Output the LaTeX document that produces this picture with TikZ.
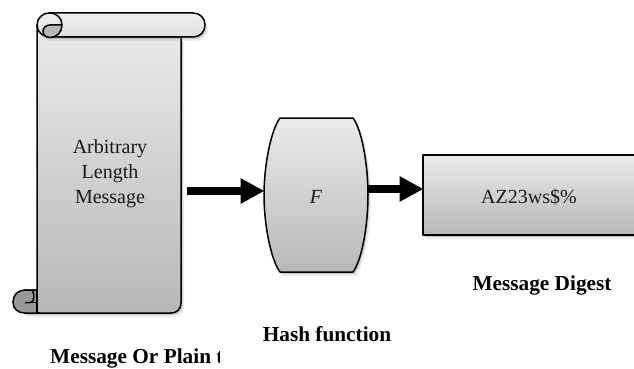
\documentclass[tikz,border=0pt]{standalone}
\usepackage{fontspec}
\setmainfont{Liberation Serif}
\usetikzlibrary{shadows,arrows.meta}
\tikzset{
  softshadow/.style={drop shadow={shadow xshift=1.5pt,shadow yshift=-2pt,opacity=.35},
    drop shadow={shadow xshift=3pt,shadow yshift=-4pt,opacity=.15}},
  sheet/.style={draw=black,line width=1.5pt,line join=round,top color=black!8,bottom color=black!28,softshadow},
  rollpart/.style={draw=black,line width=1.5pt,line join=round},
  caption/.style={font=\fontsize{21.3}{24}\selectfont\bfseries,inner sep=0pt},
  body/.style={font=\fontsize{20}{25}\selectfont,align=center,inner sep=0pt,text=black!90},
  flow/.style={line width=8pt,-{Triangle[length=24pt,width=24pt]},shorten >=-.5pt}
}
\begin{document}
\begin{tikzpicture}[x=1pt,y=-1pt]
  \clip (0,0) rectangle (634,369);
  % scroll
  \draw[sheet] (37,25) -- (37,290) -- (25,290) -- (13,302) -- (25,313) -- (171,313)
    .. controls (177,313) and (181,309) .. (181,303) -- (181,37) -- (62,37) -- cycle;
  \draw[rollpart,top color=black!6,bottom color=black!13,softshadow]
    (49,13) -- (193,13) .. controls (200,13) and (205,18) .. (205,25)
    .. controls (205,32) and (200,37) .. (193,37) -- (50,37)
    .. controls (43,37) and (37,32) .. (37,25) .. controls (37,18) and (43,13) .. (49,13) -- cycle;
  \draw[rollpart,fill=black!28] (50,25) .. controls (46,25) and (43,28) .. (43,31)
    .. controls (43,35) and (46,37.5) .. (50,37.5)
    .. controls (57,37.5) and (62,32) .. (62,25) -- cycle;
  \draw[rollpart] (49,13) .. controls (57,13) and (62,18) .. (62,25);
  % lower curl
  \fill[black!40] (37,290) -- (25,290) .. controls (18,290) and (13,295) .. (13,302)
    .. controls (13,309) and (18,313) .. (25,313) -- (37,313) -- cycle;
  \draw[rollpart] (37,290) -- (25,290) .. controls (18,290) and (13,295) .. (13,302)
    .. controls (13,309) and (18,313) .. (25,313) -- (40,313);
  \draw[rollpart] (37,290) -- (37,313);
  \draw[rollpart] (25,302.5) -- (30,302.5) .. controls (33,302.5) and (34,299) .. (34,296)
    .. controls (34,294) and (33,292) .. (32,290);
  \draw[rollpart] (31,302.5) -- (37,302.5);
  \node[body] (msgtext) at (110,173.5) {Arbitrary\\Length\\Message};
  % barrel
  \node[minimum width=104pt,minimum height=154pt,inner sep=0pt,outer sep=0pt] (hashbox) at (316,195) {};
  \draw[sheet] (280,118) -- (353,118) .. controls (362,130) and (368,165) .. (368,195)
    .. controls (368,225) and (362,260) .. (353,272) -- (280,272)
    .. controls (271,260) and (264,225) .. (264,195)
    .. controls (264,165) and (271,130) .. (280,118) -- cycle;
  \node[body] (hashtext) at (316,197) {\textit{F}};
  % digest
  \node[sheet,minimum width=213pt,minimum height=80pt,inner sep=0pt,outer sep=0pt] (digestbox) at (529.5,195) {};
  \node[body] (digesttext) at (529,197) {AZ23ws\$\%};
  % arrows
  \coordinate (msgout) at (187,191);
  \coordinate (hashout) at (368,189);
  \draw[flow] (msgout) -- (msgout -| hashbox.west);
  \draw[flow] (hashout) -- (hashout -| digestbox.west);
  % captions
  \node[caption] (digestcap) at (542,285) {Message Digest};
  \node[caption] (hashcap) at (327,334) {Hash function};
  \begin{scope}
    \clip (0,340) rectangle (219,369);
    \node[caption,anchor=west] (msgcap) at (50,358.5) {Message Or Plain t};
  \end{scope}
\end{tikzpicture}
\end{document}
